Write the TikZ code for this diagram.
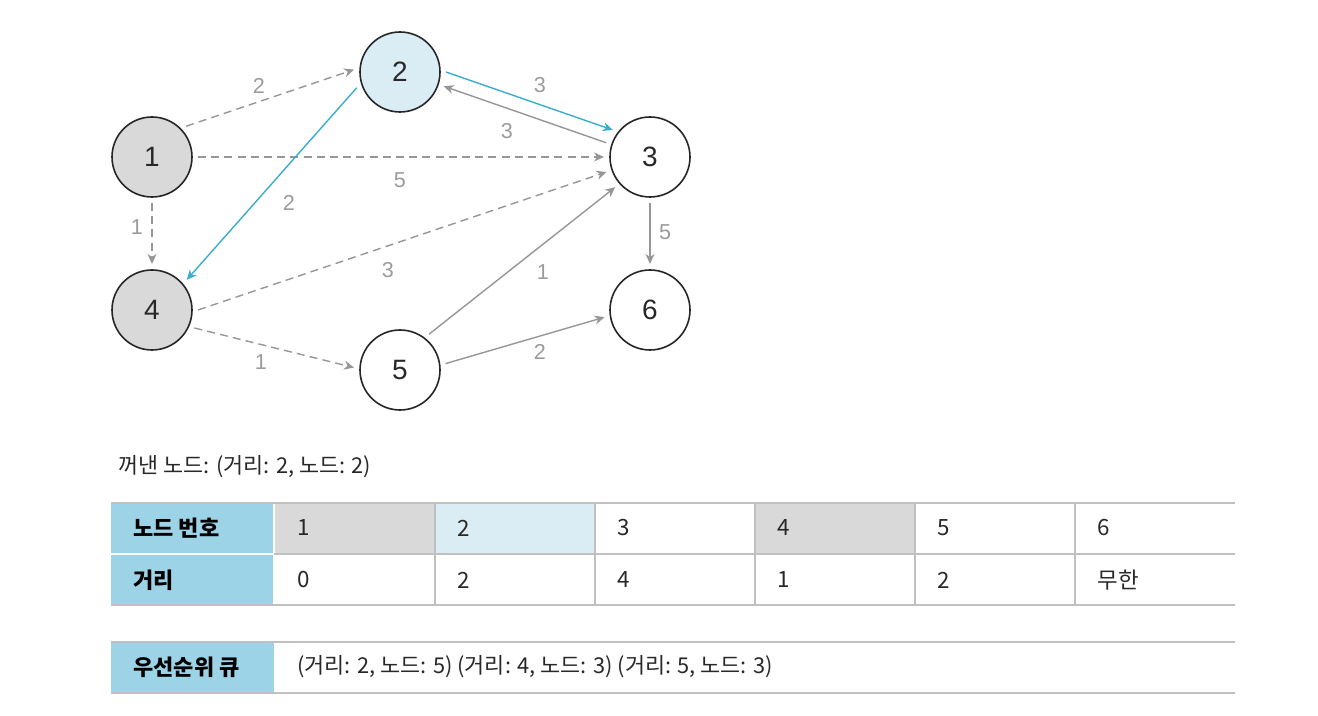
\documentclass[tikz,border=0pt]{standalone}
\usepackage{fontspec}
\setmainfont{Liberation Sans}
\newfontfamily\kr{Noto Sans CJK KR}
\usetikzlibrary{arrows.meta}
\definecolor{edgegray}{RGB}{150,150,150}
\definecolor{lblgray}{RGB}{155,155,155}
\definecolor{hlblue}{RGB}{58,172,206}
\definecolor{lightblue}{RGB}{218,237,244}
\definecolor{nodegray}{RGB}{217,217,217}
\definecolor{headblue}{RGB}{157,211,231}
\definecolor{rulegray}{RGB}{192,192,192}
\definecolor{txt}{RGB}{40,40,40}
\begin{document}
\begin{tikzpicture}[x=0.5pt,y=-0.5pt,
  vertex/.style={circle,draw=black!85,line width=0.8pt,minimum size=40pt,inner sep=0pt,
    font=\fontsize{14}{14}\selectfont,text=txt,outer sep=3pt},
  edge/.style={draw=edgegray,line width=0.7pt,-{Stealth[length=5pt,width=4.5pt]}},
  dedge/.style={edge,dash pattern=on 4pt off 2.6pt},
  bedge/.style={edge,draw=hlblue},
  wlabel/.style={text=lblgray,font=\fontsize{10.8}{10.8}\selectfont,inner sep=0pt},
  celltext/.style={anchor=west,inner sep=0pt,text=txt,font=\kr\fontsize{11.2}{11.2}\selectfont},
  headtext/.style={anchor=west,inner sep=0pt,text=black,font=\kr\bfseries\fontsize{11}{11}\selectfont},
  rule/.style={draw=rulegray,line width=0.8pt},
  vrule/.style={draw=rulegray,line width=0.6pt}]
\useasboundingbox (0,0) rectangle (1318,716);

% graph nodes
\node[vertex,fill=nodegray] (n1) at (152,157) {1};
\node[vertex,fill=lightblue] (n2) at (400,72) {2};
\node[vertex,fill=white] (n3) at (650,157) {3};
\node[vertex,fill=nodegray] (n4) at (152,310) {4};
\node[vertex,fill=white] (n5) at (400,370) {5};
\node[vertex,fill=white] (n6) at (650,310) {6};

% edges
\draw[dedge] (n1.42) -- (n2.177);
\draw[bedge] (n2.0) -- (n3.144);
\draw[edge] (n3.162) -- (n2.-18);
\draw[dedge] (n1.0) -- (n3.180);
\draw[bedge] (n2.200) -- (n4.41);
\draw[dedge] (n1.270) -- (n4.90);
\draw[dedge] (n4.0) -- (n3.199);
\draw[dedge] (n4.-23) -- (n5.177);
\draw[edge] (n5.51) -- (n3.221);
\draw[edge] (n5.8) -- (n6.189);
\draw[edge] (n3.270) -- (n6.90);

% edge labels
\node[wlabel] (w12) at (259,86) {2};
\node[wlabel] (w23) at (540,85) {3};
\node[wlabel] (w32) at (507,131) {3};
\node[wlabel] (w13) at (400,180) {5};
\node[wlabel] (w24) at (289,203) {2};
\node[wlabel] (w14) at (137,227) {1};
\node[wlabel] (w43) at (388,270) {3};
\node[wlabel] (w53) at (543,272) {1};
\node[wlabel] (w36) at (665,232) {5};
\node[wlabel] (w45) at (261,362) {1};
\node[wlabel] (w56) at (540,352) {2};

% popped node caption
\node[celltext,font=\kr\fontsize{10.9}{10.9}\selectfont] (popped) at (118,467) {꺼낸 노드: (거리: 2, 노드: 2)};

% distance table
\fill[headblue] (111,503) rectangle (274,605);
\fill[nodegray] (274,503) rectangle (435,554);
\fill[lightblue] (435,503) rectangle (595,554);
\fill[nodegray] (755,503) rectangle (915,554);
\draw[white,line width=0.8pt] (111,554) -- (274,554);
\draw[white,line width=1pt] (274,503) -- (274,605);
\foreach \x in {435,595,755,915,1075} \draw[vrule] (\x,503) -- (\x,605);
\draw[rule] (111,503) -- (1235,503);
\draw[rule] (274,554) -- (1235,554);
\draw[rule] (111,605) -- (1235,605);

\node[headtext] (h1) at (133,528) {노드 번호};
\node[headtext] (h2) at (133,580) {거리};
\node[celltext] (c11) at (297,528) {1};
\node[celltext] (c12) at (457,528) {2};
\node[celltext] (c13) at (617,528) {3};
\node[celltext] (c14) at (777,528) {4};
\node[celltext] (c15) at (937,528) {5};
\node[celltext] (c16) at (1097,528) {6};
\node[celltext] (c21) at (297,580) {0};
\node[celltext] (c22) at (457,580) {2};
\node[celltext] (c23) at (617,580) {4};
\node[celltext] (c24) at (777,580) {1};
\node[celltext] (c25) at (937,580) {2};
\node[celltext] (c26) at (1097,580) {무한};

% priority queue
\fill[headblue] (111,642) rectangle (274,693);
\draw[rule] (111,642) -- (1235,642);
\draw[rule] (111,693) -- (1235,693);
\node[headtext] (h3) at (133,667) {우선순위 큐};
\node[celltext,font=\kr\fontsize{10.9}{10.9}\selectfont] (q) at (297,667) {(거리: 2, 노드: 5) (거리: 4, 노드: 3) (거리: 5, 노드: 3)};
\end{tikzpicture}
\end{document}
